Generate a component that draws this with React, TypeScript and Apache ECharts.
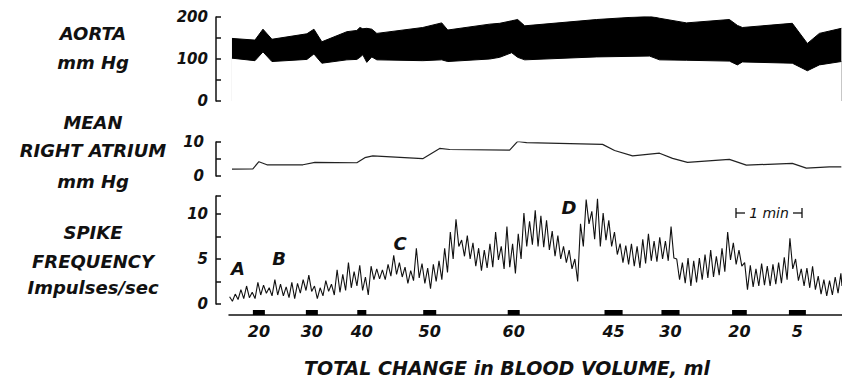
import React, { useEffect, useRef } from "react";
import * as echarts from "echarts";

// Time axis in seconds from the start of the record
const timeMax = 553;

// Aortic pressure envelope (systolic top / diastolic bottom), mm Hg
const aortaTime = [14.1, 34.4, 41.5, 49.4, 80.3, 86.5, 93.5, 115.6, 124.4, 127.1, 129.7, 133.2, 137.6, 142.1, 182.6, 199.4, 204.7, 241.8, 250.6, 261.2, 266.5, 272.7, 336.2, 383.0, 391.8, 415.6, 453.5, 460.6, 465.0, 509.1, 522.4, 533.0, 552.4];
const aortaSystolic = [149, 145, 171, 147, 160, 171, 141, 165, 168, 175, 172, 173, 171, 161, 175, 186, 169, 183, 185, 191, 194, 179, 194, 202, 197, 186, 194, 180, 175, 185, 137, 161, 173];
const aortaDiastolic = [102, 96, 117, 94, 99, 112, 90, 98, 99, 104, 110, 92, 105, 98, 96, 98, 94, 100, 104, 115, 104, 98, 105, 107, 98, 97, 95, 86, 93, 90, 72, 86, 94];

// Mean right atrial pressure, mm Hg
const atriumTime = [14.1, 32.6, 37.9, 45.0, 76.8, 87.4, 124.4, 131.5, 138.5, 182.6, 197.6, 206.5, 259.4, 266.5, 274.4, 341.5, 352.1, 368.0, 391.8, 403.3, 416.5, 453.5, 468.5, 509.1, 521.5, 541.8, 552.4];
const atriumPressure = [2.0, 2.1, 4.2, 3.3, 3.3, 4.0, 3.9, 5.4, 5.9, 5.1, 8.1, 7.8, 7.6, 10.2, 9.8, 9.3, 7.5, 5.9, 6.7, 5.2, 4.0, 4.9, 3.2, 3.7, 2.3, 2.7, 2.7];

// Spike frequency, sampled every 5 s: successive peaks and troughs (impulses/sec)
const spikeStart = 12;
const spikeStep = 5;
const spikePeaks = [
  0.8, 1.1, 1.6, 2.0, 1.3, 2.4, 2.1, 1.8, 2.7, 2.2,
  1.9, 2.4, 2.3, 2.7, 3.2, 2.0, 1.8, 2.6, 2.2, 3.8,
  3.3, 4.6, 3.6, 4.3, 3.0, 4.2, 3.9, 3.8, 4.4, 5.4,
  4.6, 4.1, 3.7, 6.2, 4.5, 4.0, 4.4, 4.8, 6.2, 8.0,
  9.4, 7.1, 7.6, 6.8, 6.2, 6.0, 6.7, 8.0, 6.4, 8.6,
  6.7, 7.8, 10.1, 9.2, 10.4, 9.8, 9.3, 8.1, 7.6, 6.4,
  6.0, 5.0, 8.9, 11.6, 10.3, 11.7, 10.1, 9.3, 8.0, 6.7,
  6.5, 6.7, 6.4, 7.2, 7.8, 7.0, 7.4, 7.0, 8.6, 5.0,
  4.6, 5.1, 4.8, 5.1, 5.5, 6.0, 5.3, 6.2, 8.0, 6.8,
  6.0, 4.6, 4.3, 3.9, 4.5, 4.2, 4.4, 4.6, 5.2, 7.3,
  5.0, 3.9, 4.0, 4.2, 3.1, 2.7, 2.6, 3.0, 3.4,
];
const spikeTroughs = [
  0.3, 0.5, 0.6, 0.7, 0.6, 1.0, 1.2, 0.9, 1.0, 0.9,
  0.7, 0.6, 1.2, 1.5, 1.4, 0.6, 0.9, 1.4, 1.0, 1.3,
  1.5, 1.8, 2.0, 1.5, 1.0, 2.7, 2.8, 2.7, 3.1, 3.3,
  3.0, 2.3, 2.6, 2.9, 2.3, 1.7, 2.5, 2.7, 3.5, 5.0,
  6.4, 5.3, 5.0, 4.2, 3.7, 4.0, 4.1, 4.9, 3.9, 4.1,
  3.4, 5.0, 6.4, 6.6, 6.4, 6.3, 6.0, 5.3, 5.0, 4.6,
  3.9, 2.5, 6.4, 8.9, 7.2, 6.4, 7.1, 6.4, 5.5, 4.6,
  4.4, 4.2, 4.0, 4.5, 4.8, 4.7, 5.0, 4.8, 5.1, 2.7,
  2.3, 2.0, 2.4, 2.7, 2.9, 3.0, 3.2, 3.6, 4.9, 4.4,
  4.2, 1.6, 1.9, 2.0, 2.1, 2.0, 2.2, 2.3, 2.7, 3.9,
  2.6, 2.0, 1.8, 1.6, 1.1, 0.9, 1.0, 1.2, 2.0,
];

// Infusion / withdrawal periods: centre time (s), duration (s), cumulative volume label (ml)
const volumeTime = [37.9, 84.7, 128.8, 188.8, 263.0, 351.2, 401.5, 462.4, 513.6];
const volumeDuration = [10.6, 10.6, 8.0, 11.5, 10.6, 16.0, 16.0, 13.0, 15.0];
const volumeLabels = ["20", "30", "40", "50", "60", "45", "30", "20", "5"];

// Tick labels shown on each pressure / frequency axis
const aortaTickLabels = [0, 100, 200];
const atriumTickLabels = [0, 10];
const spikeTickLabels = [0, 5, 10];

const FONT = '"DejaVu Sans", "Liberation Sans", sans-serif';
const INK = "#111";

function bracketAxis(gridIndex: number, max: number, interval: number, shown: number[], margin: number) {
  return {
    type: "value",
    gridIndex,
    min: 0,
    max,
    interval,
    splitLine: { show: false },
    axisLine: { show: true, lineStyle: { color: INK, width: 1.5 } },
    axisTick: { show: true, inside: true, length: 5, lineStyle: { color: INK, width: 1.5 } },
    axisLabel: {
      show: true,
      margin,
      color: INK,
      fontFamily: FONT,
      fontStyle: "italic",
      fontWeight: "bold",
      fontSize: 15,
      formatter: (v: number) => (shown.includes(v) ? String(v) : ""),
    },
  };
}

function hiddenTimeAxis(gridIndex: number) {
  return { type: "value", gridIndex, min: 0, max: timeMax, show: false };
}

function leftLabel(text: string, y: number) {
  return {
    type: "text",
    x: 93,
    y,
    style: {
      text,
      fill: INK,
      font: `italic bold 18px ${FONT}`,
      textAlign: "center",
      textVerticalAlign: "middle",
    },
  };
}

function letter(text: string, x: number, y: number) {
  return {
    type: "text",
    x,
    y,
    style: {
      text,
      fill: INK,
      font: `italic bold 18px ${FONT}`,
      textAlign: "center",
      textVerticalAlign: "middle",
    },
  };
}

function buildOption() {
  const aortaTop = aortaTime.map((t, i) => [t, aortaSystolic[i]]);
  const aortaBottom = aortaTime.map((t, i) => [t, aortaDiastolic[i]]);
  const atrium = atriumTime.map((t, i) => [t, atriumPressure[i]]);

  const spike: number[][] = [];
  spikePeaks.forEach((p, i) => {
    const t = spikeStart + i * spikeStep;
    spike.push([t, p]);
    spike.push([Math.min(t + spikeStep / 2, timeMax), spikeTroughs[i]]);
  });

  const volume = volumeTime.map((t, i) => [t, volumeDuration[i], i]);

  return {
    animation: false,
    backgroundColor: "#fff",
    grid: [
      { left: 216, width: 626, top: 17, height: 84 },
      { left: 216, width: 626, top: 142, height: 34 },
      { left: 216, width: 626, top: 196, height: 108 },
      { left: 229, width: 613, top: 310, height: 5 },
    ],
    xAxis: [
      hiddenTimeAxis(0),
      hiddenTimeAxis(1),
      hiddenTimeAxis(2),
      {
        type: "value",
        gridIndex: 3,
        min: 11.5,
        max: timeMax,
        splitLine: { show: false },
        axisTick: { show: false },
        axisLabel: { show: false },
        axisLine: { show: true, onZero: false, lineStyle: { color: INK, width: 1.5 } },
      },
    ],
    yAxis: [
      bracketAxis(0, 200, 50, aortaTickLabels, 8),
      bracketAxis(1, 10, 5, atriumTickLabels, 12),
      bracketAxis(2, 12, 2.5, spikeTickLabels, 8),
      { type: "value", gridIndex: 3, min: 0, max: 1, show: false },
    ],
    series: [
      // pulsatile pressure band: systolic envelope filled black, diastolic envelope cleared below
      {
        type: "line",
        xAxisIndex: 0,
        yAxisIndex: 0,
        data: aortaTop,
        showSymbol: false,
        lineStyle: { color: "#000", width: 1 },
        areaStyle: { color: "#000", opacity: 1 },
        z: 2,
      },
      {
        type: "line",
        xAxisIndex: 0,
        yAxisIndex: 0,
        data: aortaBottom,
        showSymbol: false,
        lineStyle: { color: "#000", width: 1 },
        areaStyle: { color: "#fff", opacity: 1 },
        z: 3,
      },
      {
        type: "line",
        xAxisIndex: 1,
        yAxisIndex: 1,
        data: atrium,
        showSymbol: false,
        lineStyle: { color: "#222", width: 1.2 },
      },
      {
        type: "line",
        xAxisIndex: 2,
        yAxisIndex: 2,
        data: spike,
        showSymbol: false,
        lineStyle: { color: "#111", width: 1.1 },
      },
      {
        type: "custom",
        xAxisIndex: 3,
        yAxisIndex: 3,
        data: volume,
        clip: false,
        renderItem: (params: any, api: any) => {
          const t = api.value(0);
          const d = api.value(1);
          const idx = api.value(2);
          const a = api.coord([t - d / 2, 1]);
          const b = api.coord([t + d / 2, 0]);
          const c = api.coord([t, 0]);
          return {
            type: "group",
            children: [
              {
                type: "rect",
                shape: { x: a[0], y: a[1], width: b[0] - a[0], height: b[1] - a[1] },
                style: { fill: "#000" },
              },
              {
                type: "text",
                x: c[0],
                y: c[1] + 16,
                style: {
                  text: volumeLabels[idx],
                  fill: INK,
                  font: `italic bold 16px ${FONT}`,
                  textAlign: "center",
                  textVerticalAlign: "middle",
                },
              },
            ],
          };
        },
      },
    ],
    graphic: [
      leftLabel("AORTA", 33),
      leftLabel("mm Hg", 62),
      leftLabel("MEAN", 122),
      leftLabel("RIGHT ATRIUM", 150),
      leftLabel("mm Hg", 181),
      leftLabel("SPIKE", 232),
      leftLabel("FREQUENCY", 261),
      leftLabel("Impulses/sec", 287),
      letter("A", 238, 268),
      letter("B", 279, 258),
      letter("C", 400, 243),
      letter("D", 569, 207),
      // one-minute time scale
      { type: "line", shape: { x1: 736, y1: 213, x2: 745, y2: 213 }, style: { stroke: INK, lineWidth: 1.3 } },
      { type: "line", shape: { x1: 793, y1: 213, x2: 802, y2: 213 }, style: { stroke: INK, lineWidth: 1.3 } },
      { type: "line", shape: { x1: 736, y1: 208, x2: 736, y2: 218 }, style: { stroke: INK, lineWidth: 1.3 } },
      { type: "line", shape: { x1: 802, y1: 208, x2: 802, y2: 218 }, style: { stroke: INK, lineWidth: 1.3 } },
      {
        type: "text",
        x: 769,
        y: 213,
        style: {
          text: "1 min",
          fill: INK,
          font: `italic 14px ${FONT}`,
          textAlign: "center",
          textVerticalAlign: "middle",
        },
      },
      {
        type: "text",
        x: 507,
        y: 368,
        style: {
          text: "TOTAL CHANGE in BLOOD VOLUME, ml",
          fill: INK,
          font: `italic bold 19px ${FONT}`,
          textAlign: "center",
          textVerticalAlign: "middle",
        },
      },
    ],
  };
}

export default function App() {
  const ref = useRef<HTMLDivElement>(null);
  useEffect(() => {
    if (!ref.current) return;
    const chart = echarts.init(ref.current, null, { renderer: "svg" });
    chart.setOption(buildOption() as any);
    return () => chart.dispose();
  }, []);
  return (
    <div
      ref={ref}
      style={{ position: "fixed", left: 0, top: 0, width: 842, height: 381, background: "#fff" }}
    />
  );
}
